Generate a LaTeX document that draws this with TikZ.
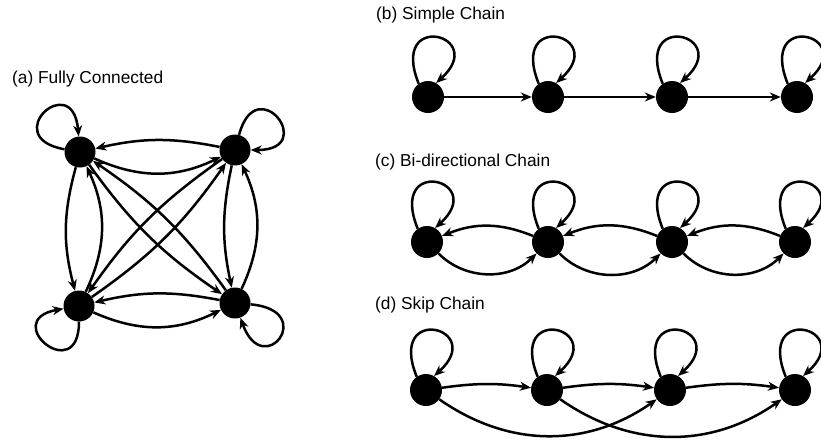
\documentclass[tikz,border=0pt]{standalone}
\usepackage{fontspec}
\setmainfont{Liberation Sans}
\usetikzlibrary{arrows.meta}
\begin{document}
\begin{tikzpicture}[x=1pt,y=-1pt,
  st/.style={circle,fill=black,inner sep=0pt,minimum size=31pt},
  stc/.style={circle,fill=black,inner sep=0pt,minimum size=32pt},
  ed/.style={line width=2.5pt,-{Stealth[length=11pt,width=9pt,inset=3.5pt]}},
  lbl/.style={anchor=west,inner sep=0pt,font=\fontsize{17.3}{20}\selectfont}]
\useasboundingbox (0,0) rectangle (821,442);
% labels
\node[lbl] (la) at (12,79) {(a) Fully Connected};
\node[lbl] (lb) at (376,15) {(b) Simple Chain};
\node[lbl] (lc) at (375,162) {(c) Bi-directional Chain};
\node[lbl] (ld) at (375,305) {(d) Skip Chain};
% (a)
\node[st] (tl) at (80,152) {};
\node[st] (tr) at (235,150) {};
\node[st] (bl) at (79,306) {};
\node[st] (br) at (235,303) {};
\draw[ed] (tl) to[out=170,in=95,distance=68pt] (tl);
\draw[ed] (tr) to[out=75,in=0,distance=68pt] (tr);
\draw[ed] (bl) to[out=270,in=190,distance=66pt] (bl);
\draw[ed] (br) to[out=-5,in=-70,distance=68pt] (br);
\draw[ed] (tr) to[bend right=12] (tl);
\draw[ed] (tl) to[bend right=25] (tr);
\draw[ed] (tl) to[bend right=15] (bl);
\draw[ed] (bl) to[bend right=25] (tl);
\draw[ed] (tr) to[bend right=12] (br);
\draw[ed] (br) to[bend right=25] (tr);
\draw[ed] (br) to[bend right=12] (bl);
\draw[ed] (bl) to[bend right=25] (br);
\draw[ed] (tl) to[bend right=10] (br);
\draw[ed] (br) to[bend right=10] (tl);
\draw[ed] (tr) to[bend right=10] (bl);
\draw[ed] (bl) to[bend right=10] (tr);
% chains
\foreach \i/\x in {1/428,2/548,3/672,4/797} {\node[stc] (b\i) at (\x,97) {};}
\foreach \i/\x in {1/427,2/548,3/672,4/795} {\node[stc] (c\i) at (\x,242) {};}
\foreach \i/\x in {1/426,2/547,3/670,4/795} {\node[stc] (d\i) at (\x,390) {};}
\foreach \r in {b,c,d} {
  \foreach \i in {1,2,3,4} {\draw[ed] (\r\i.125) .. controls +(-112:80) and +(-42:72) .. (\r\i.60);}
}
% (b)
\draw[ed] (b1) -- (b2);
\draw[ed] (b2) -- (b3);
\draw[ed] (b3) -- (b4);
% (c)
\draw[ed] (c2) to[bend right=22] (c1);
\draw[ed] (c3) to[bend right=22] (c2);
\draw[ed] (c4) to[bend right=22] (c3);
\draw[ed] (c1) to[bend right=45] (c2);
\draw[ed] (c2) to[bend right=45] (c3);
\draw[ed] (c3) to[bend right=45] (c4);
% (d)
\draw[ed] (d1) to[bend left=8] (d2);
\draw[ed] (d2) to[bend left=8] (d3);
\draw[ed] (d3) to[bend left=8] (d4);
\draw[ed] (d1) to[bend right=35] (d3);
\draw[ed] (d2) to[bend right=35] (d4);
\end{tikzpicture}
\end{document}
